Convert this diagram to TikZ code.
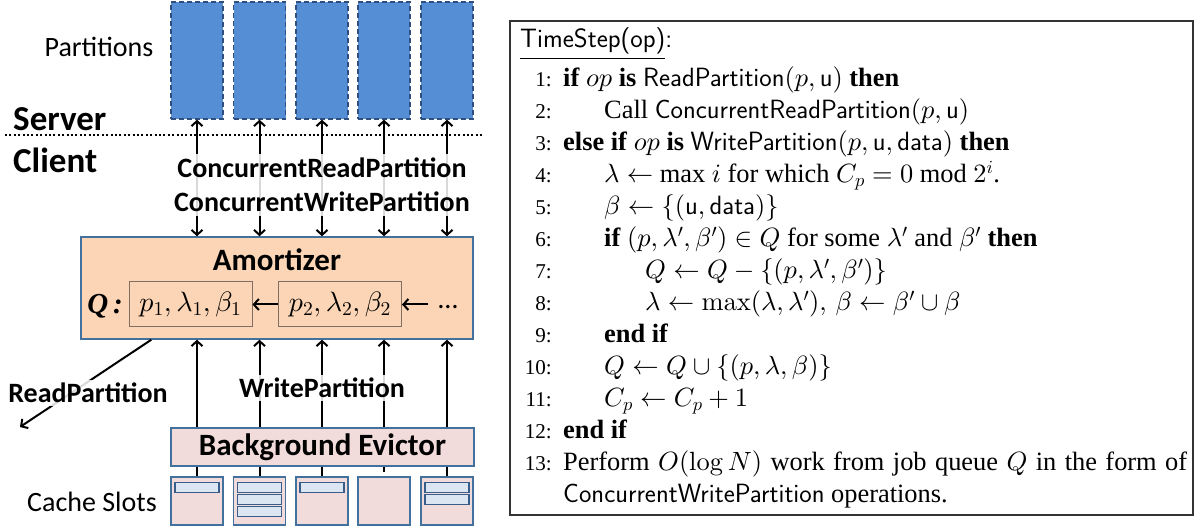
\documentclass[tikz,border=0pt]{standalone}
\usepackage[no-math]{fontspec}
\setmainfont{Liberation Serif}
\newfontfamily\calib{Carlito}
\DeclareFontFamily{OML}{cmm}{\skewchar\font127 }
\DeclareFontShape{OML}{cmm}{m}{it}{<->cmmi10}{}
\DeclareFontFamily{OMS}{cmsy}{\skewchar\font48 }
\DeclareFontShape{OMS}{cmsy}{m}{n}{<->cmsy10}{}
\DeclareFontFamily{OT1}{cmr}{\hyphenchar\font45 }
\DeclareFontShape{OT1}{cmr}{m}{n}{<->cmr10}{}
\DeclareFontFamily{OMX}{cmex}{}
\DeclareFontShape{OMX}{cmex}{m}{n}{<->cmex10}{}
\usetikzlibrary{arrows.meta,calc}
\definecolor{partfill}{HTML}{558ED5}
\definecolor{partline}{HTML}{2F4F7F}
\definecolor{amfill}{HTML}{FBD5B5}
\definecolor{boxline}{HTML}{41719C}
\definecolor{pinkfill}{HTML}{F2DCDB}
\definecolor{barfill}{HTML}{DCE6F2}
\definecolor{barline}{HTML}{385D8A}
\definecolor{qline}{HTML}{7F6E64}
\definecolor{algline}{HTML}{333333}
\tikzset{
  part/.style={draw=partline, dash pattern=on 5pt off 3pt, line width=1.5pt, fill=partfill, minimum width=52, minimum height=117, inner sep=0},
  slot/.style={draw=boxline, line width=1.5pt, fill=pinkfill, minimum width=52, minimum height=48, inner sep=0},
  bar/.style={draw=barline, line width=1.5pt, fill=barfill, minimum width=44, minimum height=10, inner sep=0},
  qbox/.style={draw=qline, line width=1pt, minimum width=123, minimum height=45, inner sep=0, font=\fontsize{28}{30}\selectfont},
  lbl/.style={font=\calib\bfseries\fontsize{28}{34}\selectfont, inner sep=0},
  plain/.style={font=\calib\fontsize{28}{34}\selectfont, inner sep=0},
  big/.style={font=\calib\bfseries\fontsize{35}{40}\selectfont, inner sep=0, anchor=west},
  veil/.style={fill=white, fill opacity=0.85, text opacity=1},
  arrline/.style={line width=2pt, black},
  tipend/.style={arrline, -{Straight Barb[length=5pt,width=11pt]}},
  tipboth/.style={arrline, {Straight Barb[length=5pt,width=11pt]}-{Straight Barb[length=5pt,width=11pt]}},
  num/.style={anchor=base east, font=\fontsize{21.1}{24}\selectfont, inner sep=0},
  alg/.style={anchor=base west, font=\fontsize{26.4}{32}\selectfont, inner sep=0},
}
\begin{document}
\begin{tikzpicture}[x=1pt,y=-1pt]
\useasboundingbox (0,0) rectangle (1195,529);
\fill[white] (0,0) rectangle (1195,529);

% ---------- left diagram ----------
\foreach \i/\x in {1/197,2/259.5,3/322,4/384,5/447}{
  \node[part] (p\i) at (\x,60.5) {};
  \node[slot] (s\i) at (\x,501) {};
}
\node[plain] (partlbl) at (99,47) {Partitions};
\node[plain] (cachelbl) at (92,502) {Cache Slots};

\node[big] (server) at (13,119) {Server};
\node[big] (client) at (13,160) {Client};
\coordinate (dl) at (5,135);
\coordinate (dr) at (483,135);
\draw[line width=2pt, dash pattern=on 2pt off 2.4pt] (dl) -- (dr);

\node[draw=boxline, line width=1.5pt, fill=amfill, minimum width=392, minimum height=102, inner sep=0] (am) at (277,288) {};
\node[lbl, font=\calib\bfseries\fontsize{31}{34}\selectfont] (amt) at (277,260) {Amortizer};
\node[inner sep=0, font=\bfseries\itshape\fontsize{29}{30}\selectfont] (qlab) at (105,306) {Q\,:};
\node[qbox] (q1) at (190.5,304.5) {$p_1,\lambda_1,\beta_1$};
\node[qbox] (q2) at (340,304.5) {$p_2,\lambda_2,\beta_2$};
\coordinate (qin) at (428,304.5);
\node[inner sep=0, font=\calib\fontsize{28}{30}\selectfont, anchor=base] (dots) at (448,309) {…};
\draw[tipend] (q2.west) -- (q1.east);
\draw[tipend] (qin) -- (q2.east);

\node[draw=boxline, line width=1.5pt, fill=pinkfill, minimum width=303, minimum height=38, inner sep=0, font=\calib\bfseries\fontsize{31}{34}\selectfont] (ev) at (322.5,447) {Background Evictor};

% bars in cache slots
\node[bar] (b11) at (197,487.5) {};
\node[bar] (b21) at (259.5,487.5) {};
\node[bar] (b22) at (259.5,499.5) {};
\node[bar] (b23) at (259.5,511.5) {};
\node[bar] (b31) at (322,487.5) {};
\node[bar] (b51) at (447,487.5) {};
\node[bar] (b52) at (447,499.5) {};

% connectors
\foreach \i in {1,...,5}{
  \draw[tipboth] (p\i.south) -- (p\i.south |- am.north);
  \draw[tipend] (ev.north -| p\i) -- (am.south -| p\i);
}
\foreach \i in {1,2,3,5}{
  \draw[arrline] (s\i.north) -- (ev.south -| s\i);
}
\draw[arrline, shorten <=4pt] (s4.north) -- (ev.south -| s4);

\coordinate (rpE) at (20,427);
\draw[tipend] ([xshift=71pt]am.south west) -- (rpE);

% labels with veils over lines
\node[lbl, veil, align=center, inner xsep=1pt, inner ysep=4pt] (conc) at (322,185) {ConcurrentReadPartition\\ConcurrentWritePartition};
\node[lbl, veil, inner xsep=1pt, inner ysep=3pt] (wp) at (322,388) {WritePartition};
\node[lbl, veil, inner xsep=1pt, inner ysep=3pt] (rp) at (88,393) {ReadPartition};

% ---------- right algorithm ----------
\node[draw=algline, line width=1.5pt, minimum width=683, minimum height=494, inner sep=0] (algbox) at (851.5,268) {};
\node[anchor=base west, inner sep=0, font=\sffamily\fontsize{26.5}{30}\selectfont] (ts) at (520,48) {\underline{TimeStep(op)}:};

\node[num] (n1) at (552,86.7) {1:};
\node[alg] (l1) at (563,86.7) {\textbf{if} $op$ \textbf{is} \textsf{ReadPartition}$(p,\textsf{u})$ \textbf{then}};
\node[num] (n2) at (552,118.7) {2:};
\node[alg] (l2) at (604,118.7) {Call \textsf{ConcurrentReadPartition}$(p,\textsf{u})$};
\node[num] (n3) at (552,150.7) {3:};
\node[alg] (l3) at (563,150.7) {\textbf{else if} $op$ \textbf{is} \textsf{WritePartition}$(p,\textsf{u},\textsf{data})$ \textbf{then}};
\node[num] (n4) at (552,182.7) {4:};
\node[alg] (l4) at (604,182.7) {$\lambda\leftarrow$ max $i$ for which $C_p=0$ mod $2^i$.};
\node[num] (n5) at (552,214.7) {5:};
\node[alg] (l5) at (604,214.7) {$\beta\leftarrow\{(\textsf{u},\textsf{data})\}$};
\node[num] (n6) at (552,246.7) {6:};
\node[alg] (l6) at (604,246.7) {\textbf{if} $(p,\lambda',\beta')\in Q$ for some $\lambda'$ and $\beta'$ \textbf{then}};
\node[num] (n7) at (552,278.7) {7:};
\node[alg] (l7) at (645,278.7) {$Q\leftarrow Q-\{(p,\lambda',\beta')\}$};
\node[num] (n8) at (552,310.7) {8:};
\node[alg] (l8) at (645,310.7) {$\lambda\leftarrow\max(\lambda,\lambda'),\,\beta\leftarrow\beta'\cup\beta$};
\node[num] (n9) at (552,342.7) {9:};
\node[alg] (l9) at (604,342.7) {\textbf{end if}};
\node[num] (n10) at (552,374.7) {10:};
\node[alg] (l10) at (604,374.7) {$Q\leftarrow Q\cup\{(p,\lambda,\beta)\}$};
\node[num] (n11) at (552,406.7) {11:};
\node[alg] (l11) at (604,406.7) {$C_p\leftarrow C_p+1$};
\node[num] (n12) at (552,438.7) {12:};
\node[alg] (l12) at (563,438.7) {\textbf{end if}};
\node[num] (n13) at (552,470.7) {13:};
\node[alg] (l13) at (563,470.7) {\makebox[624pt][s]{Perform $O(\log N)$ work from job queue $Q$ in the form of}};
\node[alg] (l14) at (563,502.7) {\textsf{ConcurrentWritePartition} operations.};
\end{tikzpicture}
\end{document}
